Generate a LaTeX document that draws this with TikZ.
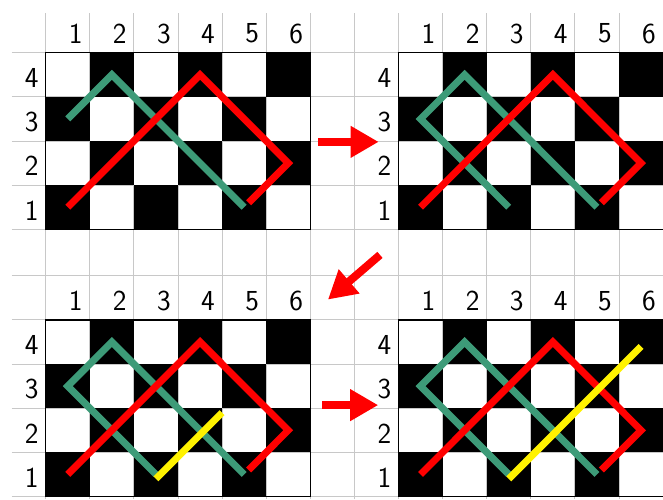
\documentclass[tikz,border=0pt]{standalone}
\usetikzlibrary{arrows.meta}
\definecolor{path-green}{HTML}{3D9B78}
\definecolor{grid-gray}{HTML}{C8C8C8}

\tikzset{
  gridline/.style={grid-gray, line width=1pt},
  onboard/.style={shift={#1}, x=44.1pt, y=44.15pt},
  numlabel/.style={inner sep=0pt, font=\fontsize{29}{29}\selectfont\sffamily},
  greenpath/.style={path-green, line width=7pt},
  redpath/.style={red, line width=7pt},
  yellowpath/.style={yellow, line width=7pt},
  movearrow/.style={red, line width=8pt, -{Triangle[length=28pt, width=30pt]}}
}

% checkerboard with row and column numbers: #1 name
\newcommand{\chessboard}[1]{%
  \foreach \c in {1,...,6}
    \foreach \r in {1,...,4} {
      \pgfmathtruncatemacro{\odd}{mod(\c+\r,2)}
      \ifnum\odd=0 \fill (\c-1,\r-1) rectangle (\c,\r); \fi
    }
  \draw[line width=1.2pt] (0,0) rectangle (6,4);
  \foreach \c in {1,...,6}
    \node[numlabel] (#1-c\c) at (\c-0.32,4.43) {\c};
  \foreach \r in {1,...,4}
    \node[numlabel] (#1-r\r) at (-0.32,\r-0.57) {\r};
}

\begin{document}
\begin{tikzpicture}[x=1pt, y=1pt]
  \useasboundingbox (0,0) rectangle (663,499);
  % background grid
  \foreach \k in {0,...,14}
    \draw[gridline] (45.7+44.1*\k,0) -- (45.7+44.1*\k,486);
  \foreach \k in {0,...,4} {
    \draw[gridline] (11.7,269.7+44.15*\k) -- (663,269.7+44.15*\k);
    \draw[gridline] (11.7,2.5+44.15*\k) -- (663,2.5+44.15*\k);
  }
  \draw[gridline] (11.7,223.5) -- (663,223.5);

  % top left
  \begin{scope}[onboard={(45.7,269.7)}]
    \chessboard{tl}
    \draw[greenpath] (0.5,2.5) -- (1.5,3.5) -- (4.5,0.5);
    \draw[redpath] (0.5,0.5) -- (3.5,3.5) -- (5.5,1.5) -- (4.6,0.6);
    \coordinate (tl-out) at (6.18,1.98);
  \end{scope}
  % top right
  \begin{scope}[onboard={(398.5,269.7)}]
    \chessboard{tr}
    \draw[greenpath] (2.5,0.5) -- (0.5,2.5) -- (1.5,3.5) -- (4.5,0.5);
    \draw[redpath] (0.5,0.5) -- (3.5,3.5) -- (5.5,1.5) -- (4.6,0.6);
    \coordinate (tr-in) at (-0.45,1.98);
    \coordinate (tr-out) at (-0.42,-0.58);
  \end{scope}
  % bottom left
  \begin{scope}[onboard={(45.7,2.5)}]
    \chessboard{bl}
    \draw[greenpath] (2.5,0.5) -- (0.5,2.5) -- (1.5,3.5) -- (4.5,0.5);
    \draw[redpath] (0.5,0.5) -- (3.5,3.5) -- (5.5,1.5) -- (4.6,0.6);
    \draw[yellowpath] (2.5,0.4) -- (4,1.9);
    \coordinate (bl-in) at (6.4,4.46);
    \coordinate (bl-out) at (6.27,2.07);
  \end{scope}
  % bottom right
  \begin{scope}[onboard={(398.5,2.5)}]
    \chessboard{br}
    \draw[greenpath] (2.5,0.5) -- (0.5,2.5) -- (1.5,3.5) -- (4.5,0.5);
    \draw[redpath] (0.5,0.5) -- (3.5,3.5) -- (5.5,1.5) -- (4.6,0.6);
    \draw[yellowpath] (2.5,0.4) -- (5.5,3.4);
    \coordinate (br-in) at (-0.46,2.07);
  \end{scope}

  % moves
  \draw[movearrow] (tl-out) -- (tr-in);
  \draw[movearrow] (tr-out) -- (bl-in);
  \draw[movearrow] (bl-out) -- (br-in);
\end{tikzpicture}
\end{document}
